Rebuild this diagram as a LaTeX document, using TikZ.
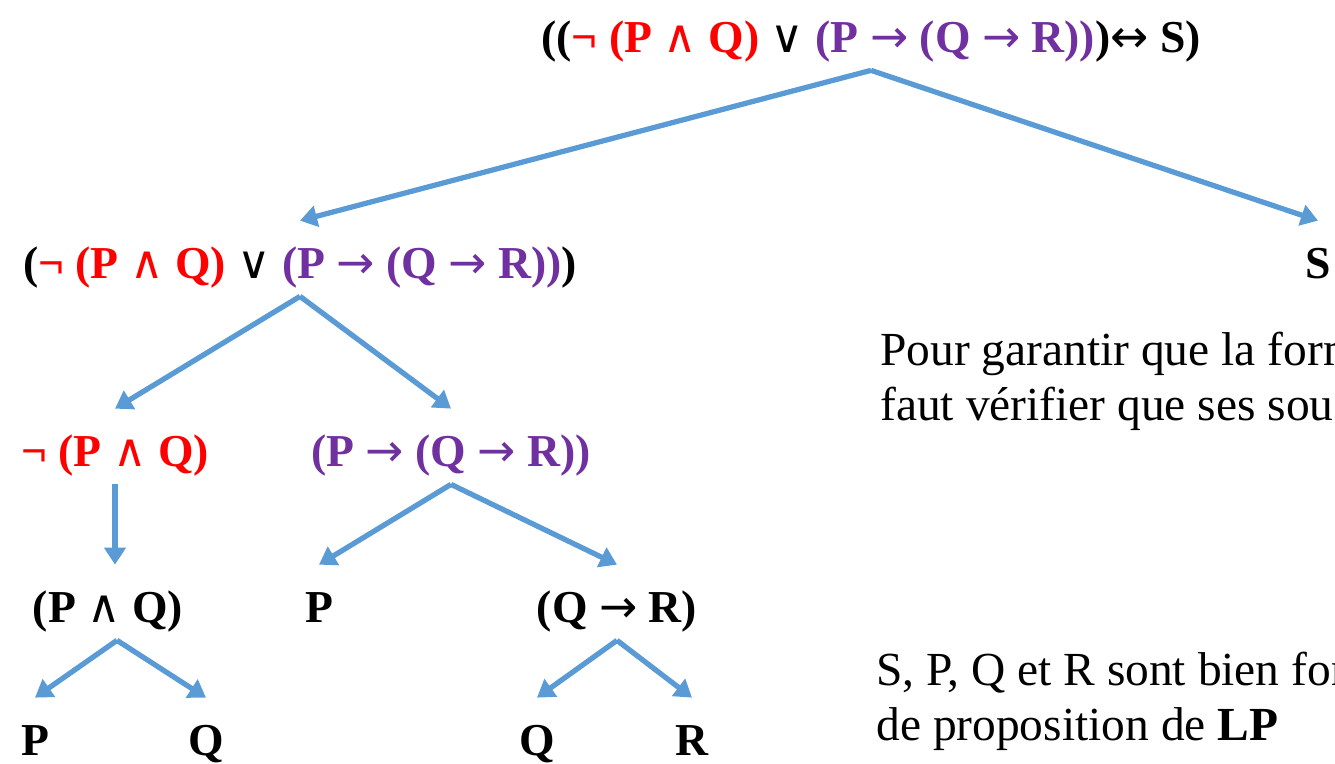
\documentclass[tikz,border=0pt]{standalone}
\usepackage{fontspec}
\usepackage{xcolor}
\usepackage{tikz}
\usetikzlibrary{arrows.meta,positioning,calc}
\setmainfont{Liberation Serif}
\newfontfamily\symfont{DejaVu Sans}
\definecolor{negred}{HTML}{FF0000}
\definecolor{impurple}{HTML}{7030A0}
\definecolor{arrblue}{HTML}{5B9BD5}
\newcommand{\andop}{{\symfont\mdseries ∧}}
\newcommand{\orop}{{\symfont\mdseries ∨}}
\newcommand{\impop}{{\symfont\mdseries →}}
\newcommand{\iffop}{{\symfont\mdseries ↔}}
\newcommand{\fmsize}{\fontsize{26}{31}\selectfont}
\newcommand{\txtsize}{\fontsize{27}{31.3}\selectfont}
\newcommand{\negpart}{\textcolor{negred}{¬ (P \andop{} Q)}}
\newcommand{\imppart}{\textcolor{impurple}{(P \impop{} (Q \impop{} R))}}

\begin{document}
\begin{tikzpicture}[>=Latex,
  fm/.style={font=\fmsize\bfseries, inner sep=0pt, text height=1.14cm, text depth=0.36cm, anchor=base},
  arr/.style={draw=arrblue, line width=3pt, -{Triangle[length=0.34cm,width=0.42cm]}},
  txt/.style={font=\txtsize, inner sep=0pt, anchor=base west, align=left}]
  \useasboundingbox (0,0) rectangle (26.7,-15.26);
  % formulas, one row per level
  \node[fm](root) at (17.42,-1.04){((\negpart{} \orop{} \imppart)\iffop{} S)};
  \node[fm](l1) at (6.0,-5.56){(\negpart{} \orop{} \imppart)};
  \node[fm](s) at (26.36,-5.56){S};
  \node[fm](neg) at (2.3,-9.32){\negpart};
  \node[fm](imp) at (9.02,-9.32){\imppart};
  \node[fm](pand) at (2.16,-12.44){(P \andop{} Q)};
  \node[fm](p1) at (6.38,-12.44){P};
  \node[fm](qr) at (12.34,-12.44){(Q \impop{} R)};
  \node[fm](pa) at (0.7,-15.1){P};
  \node[fm](qa) at (4.12,-15.1){Q};
  \node[fm](qb) at (10.74,-15.1){Q};
  \node[fm](rb) at (13.84,-15.1){R};
  % comments on the right (base = last line)
  \node[txt](why) at (17.6,-8.4){Pour garantir que la formule\\ faut vérifier que ses sous-formules};
  \node[txt](atoms) at (17.52,-14.8){S, P, Q et R sont bien formées\\ de proposition de \textbf{LP}};
  % tree arrows
  \draw[arr](root.south)--(l1.north); \draw[arr](root.south)--(s.north);
  \draw[arr](l1.south)--(neg.north); \draw[arr](l1.south)--(imp.north);
  \draw[arr](neg.south)--(neg.south |- pand.north);
  \draw[arr](imp.south)--(p1.north); \draw[arr](imp.south)--(qr.north);
  \draw[arr]([xshift=0.18cm]pand.south)--(pa.north); \draw[arr]([xshift=0.18cm]pand.south)--(qa.north);
  \draw[arr](qr.south)--(qb.north); \draw[arr](qr.south)--(rb.north);
\end{tikzpicture}
\end{document}
